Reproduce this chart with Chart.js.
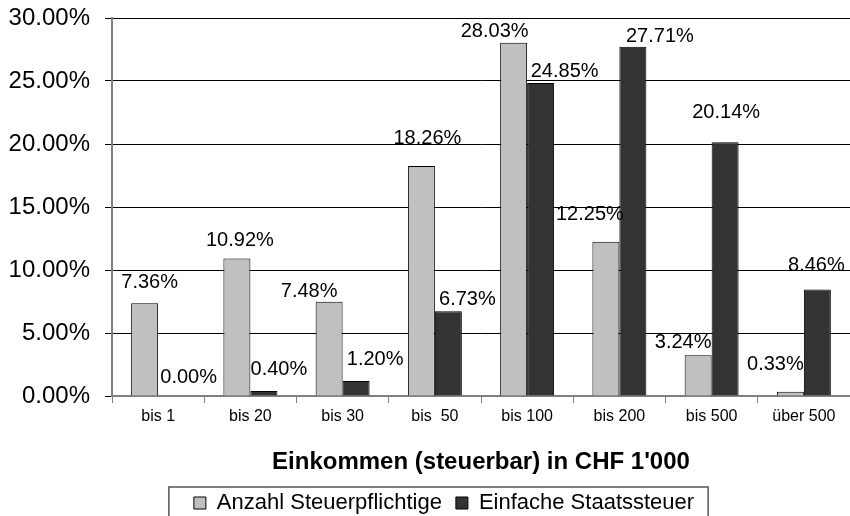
<!DOCTYPE html>
<html>
<head>
<meta charset="utf-8">
<script src="https://cdn.jsdelivr.net/npm/chart.js@4.4.1/dist/chart.umd.min.js"></script>
<style>
    html, body { margin: 0; padding: 0; background: #fff; overflow: hidden; }
    canvas { display: block; }
</style>
</head>
<body>
<canvas id="barChartCanvas" width="850" height="524"></canvas>
<script>
// chart data (percent)
let categories = ['bis 1', 'bis 20', 'bis 30', 'bis  50', 'bis 100', 'bis 200', 'bis 500', 'über 500'];
let anzahlSteuerpflichtige = [7.36, 10.92, 7.48, 18.26, 28.03, 12.25, 3.24, 0.33];
let einfacheStaatssteuer = [0.00, 0.40, 1.20, 6.73, 24.85, 27.71, 20.14, 8.46];
let yTicks = [0, 5, 10, 15, 20, 25, 30];

// label nudges in px [dx, dy] relative to bar top centre (hand placed in the original)
let labelNudge = [
    [[5, -21], [3, -18], [-20, -10], [6, -27], [-19, -11], [-16, -27], [-15, -13], [-15, -27]],
    [[17, -19], [15, -21], [19, -21], [19, -12], [24, -11], [27, -10], [1, -30], [-1, -24]]
];

let fontFamily = "'Liberation Sans', Arial, sans-serif";

let valueLabels = {
    id: 'valueLabels',
    afterDatasetsDraw: function (chart) {
        let ctx = chart.ctx;
        ctx.save();
        ctx.font = '20px ' + fontFamily;
        ctx.fillStyle = '#000';
        ctx.textAlign = 'center';
        ctx.textBaseline = 'middle';
        chart.data.datasets.forEach(function (ds, i) {
            chart.getDatasetMeta(i).data.forEach(function (bar, j) {
                let n = labelNudge[i][j];
                ctx.fillText(ds.data[j].toFixed(2) + '%', bar.x + n[0], bar.y + n[1]);
            });
        });
        ctx.restore();
    }
};

let legendFrame = {
    id: 'legendFrame',
    afterLayout: function (chart) {
        // the original legend sits a bit right of page centre
        chart.legend.left += 19;
        chart.legend.right += 19;
    },
    afterDraw: function (chart) {
        let boxes = chart.legend.legendHitBoxes;
        if (!boxes || !boxes.length) return;
        let left = Math.min.apply(null, boxes.map(b => b.left)) - 25;
        let right = Math.max.apply(null, boxes.map(b => b.left + b.width)) + 14;
        let mid = boxes[0].top + boxes[0].height / 2;
        let ctx = chart.ctx;
        ctx.save();
        ctx.strokeStyle = '#555';
        ctx.lineWidth = 1.5;
        ctx.strokeRect(left, mid - 16, right - left, 32);
        ctx.restore();
    }
};

let barChartDraw = function () {
    let ctx = document.getElementById('barChartCanvas').getContext('2d');

    window.barChart = new Chart(ctx, {
        type: 'bar',
        data: {
            labels: categories,
            datasets: [{
                label: 'Anzahl Steuerpflichtige',
                data: anzahlSteuerpflichtige,
                backgroundColor: '#c0c0c0',
                borderColor: '#000',
                borderWidth: 1
            }, {
                label: 'Einfache Staatssteuer',
                data: einfacheStaatssteuer,
                backgroundColor: '#333333',
                borderColor: '#000',
                borderWidth: 1
            }]
        },
        options: {
            responsive: false,
            animation: false,
            events: [],
            categoryPercentage: 0.585,
            barPercentage: 1.0,
            layout: {
                padding: { top: 18, right: 0, left: 0, bottom: 0 }
            },
            scales: {
                x: {
                    grid: {
                        offset: true,
                        drawOnChartArea: false,
                        color: '#808080',
                        tickLength: 7
                    },
                    border: { color: '#808080', width: 2 },
                    ticks: {
                        color: '#000',
                        padding: 4,
                        maxRotation: 0,
                        font: { family: fontFamily, size: 16 }
                    },
                    title: {
                        display: true,
                        text: "Einkommen (steuerbar) in CHF 1'000",
                        color: '#000',
                        padding: { top: 0, bottom: 1 },
                        font: { family: fontFamily, size: 24, weight: 'bold' }
                    },
                    afterFit: function (scale) {
                        scale.height = 82;
                        scale.paddingLeft = 0;
                        scale.paddingRight = 0;
                    }
                },
                y: {
                    min: 0,
                    max: 30,
                    afterBuildTicks: function (scale) {
                        scale.ticks = yTicks.map(v => ({ value: v }));
                    },
                    grid: {
                        color: '#000',
                        lineWidth: 1,
                        tickLength: 7
                    },
                    border: { color: '#808080', width: 2 },
                    ticks: {
                        color: '#000',
                        padding: 15,
                        font: { family: fontFamily, size: 24 },
                        callback: function (v) { return v.toFixed(2) + '%'; }
                    },
                    afterFit: function (scale) {
                        scale.width = 112;
                        scale.paddingTop = 0;
                        scale.paddingBottom = 0;
                    }
                }
            },
            plugins: {
                legend: {
                    position: 'bottom',
                    labels: {
                        color: '#000',
                        boxWidth: 12,
                        boxHeight: 12,
                        padding: 14,
                        font: { family: fontFamily, size: 22 }
                    }
                },
                tooltip: { enabled: false }
            }
        },
        plugins: [valueLabels, legendFrame]
    });
};

window.onload = function () {
    barChartDraw();
};
</script>
</body>
</html>
